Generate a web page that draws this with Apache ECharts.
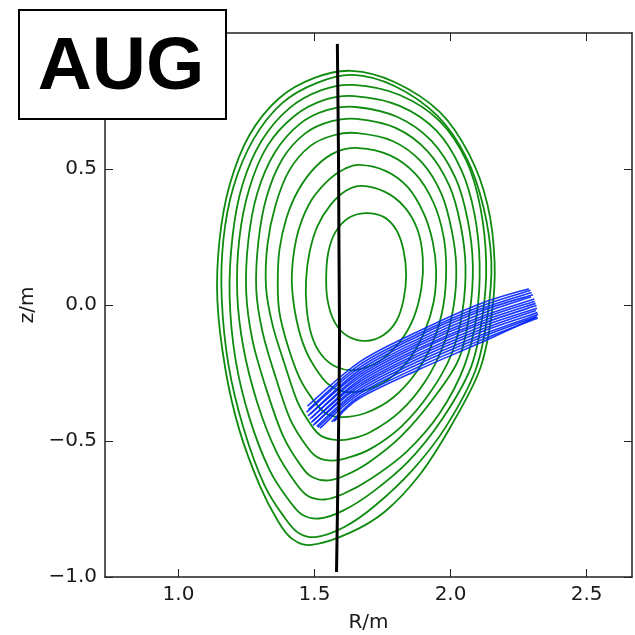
<!DOCTYPE html>
<html>
<head>
<meta charset="utf-8">
<script src="https://cdn.jsdelivr.net/npm/echarts@6/dist/echarts.min.js"></script>
<style>
html, body { margin: 0; padding: 0; background: #fff; }
#main { width: 635px; height: 635px; }
</style>
</head>
<body>
<div id="main"></div>
<script>
// flux surfaces, outermost first, [R, z] in m
var c0 = [[1.636,0.861],[1.794,0.820],[1.960,0.710],[2.070,0.551],[2.136,0.368],[2.162,0.158],[2.151,-0.037],[2.107,-0.239],[2.004,-0.441],[1.886,-0.625],[1.757,-0.761],[1.629,-0.838],[1.489,-0.882],[1.417,-0.859],[1.366,-0.795],[1.298,-0.662],[1.224,-0.460],[1.173,-0.239],[1.143,0.018],[1.151,0.239],[1.188,0.441],[1.261,0.625],[1.371,0.761],[1.500,0.835]];
var c1 = [[1.640,0.846],[1.794,0.805],[1.952,0.695],[2.059,0.540],[2.121,0.360],[2.150,0.158],[2.136,-0.037],[2.092,-0.239],[1.982,-0.449],[1.860,-0.607],[1.721,-0.739],[1.610,-0.816],[1.504,-0.853],[1.440,-0.837],[1.392,-0.784],[1.316,-0.662],[1.239,-0.452],[1.184,-0.221],[1.159,0.026],[1.165,0.239],[1.202,0.434],[1.276,0.610],[1.382,0.743],[1.507,0.816]];
var c2 = [[1.643,0.809],[1.813,0.772],[1.960,0.676],[2.059,0.529],[2.110,0.357],[2.131,0.154],[2.118,-0.037],[2.074,-0.232],[1.967,-0.423],[1.846,-0.574],[1.713,-0.688],[1.605,-0.756],[1.518,-0.785],[1.455,-0.771],[1.410,-0.723],[1.335,-0.607],[1.261,-0.415],[1.210,-0.202],[1.188,0.033],[1.199,0.254],[1.235,0.441],[1.305,0.603],[1.408,0.724],[1.526,0.790]];
var c3 = [[1.647,0.768],[1.813,0.732],[1.949,0.640],[2.040,0.496],[2.088,0.335],[2.107,0.151],[2.096,-0.037],[2.051,-0.224],[1.960,-0.398],[1.838,-0.540],[1.706,-0.640],[1.605,-0.695],[1.537,-0.715],[1.476,-0.702],[1.432,-0.656],[1.360,-0.540],[1.290,-0.360],[1.239,-0.158],[1.216,0.040],[1.224,0.246],[1.261,0.430],[1.327,0.585],[1.426,0.695],[1.537,0.754]];
var c4 = [[1.651,0.728],[1.805,0.691],[1.930,0.603],[2.018,0.467],[2.063,0.313],[2.082,0.147],[2.070,-0.029],[2.029,-0.202],[1.930,-0.353],[1.816,-0.485],[1.702,-0.577],[1.614,-0.626],[1.551,-0.645],[1.495,-0.634],[1.454,-0.596],[1.386,-0.485],[1.324,-0.313],[1.272,-0.129],[1.249,0.048],[1.257,0.239],[1.290,0.412],[1.353,0.559],[1.445,0.665],[1.548,0.717]];
var c5 = [[1.654,0.684],[1.798,0.651],[1.915,0.566],[1.996,0.438],[2.037,0.294],[2.055,0.143],[2.044,-0.022],[2.004,-0.180],[1.925,-0.322],[1.820,-0.446],[1.706,-0.529],[1.621,-0.562],[1.566,-0.572],[1.513,-0.561],[1.476,-0.526],[1.412,-0.423],[1.357,-0.265],[1.309,-0.099],[1.286,0.055],[1.294,0.235],[1.324,0.397],[1.382,0.537],[1.467,0.632],[1.563,0.676]];
var c6 = [[1.658,0.632],[1.787,0.603],[1.893,0.526],[1.967,0.408],[2.004,0.276],[2.021,0.140],[2.011,-0.007],[1.974,-0.147],[1.908,-0.279],[1.813,-0.393],[1.706,-0.467],[1.629,-0.493],[1.577,-0.496],[1.526,-0.482],[1.493,-0.449],[1.438,-0.357],[1.390,-0.217],[1.346,-0.074],[1.322,0.063],[1.327,0.221],[1.357,0.368],[1.408,0.496],[1.485,0.585],[1.574,0.625]];
var c7 = [[1.662,0.577],[1.776,0.551],[1.871,0.482],[1.938,0.375],[1.974,0.254],[1.984,0.136],[1.974,0.000],[1.938,-0.129],[1.875,-0.246],[1.787,-0.342],[1.688,-0.397],[1.599,-0.412],[1.540,-0.397],[1.493,-0.346],[1.445,-0.268],[1.401,-0.147],[1.371,-0.026],[1.365,0.081],[1.371,0.202],[1.397,0.320],[1.441,0.423],[1.507,0.511],[1.581,0.563]];
var c8 = [[1.665,0.515],[1.761,0.493],[1.842,0.434],[1.901,0.338],[1.934,0.235],[1.947,0.129],[1.938,0.011],[1.904,-0.099],[1.846,-0.202],[1.768,-0.276],[1.688,-0.313],[1.618,-0.320],[1.563,-0.301],[1.518,-0.254],[1.467,-0.165],[1.434,-0.055],[1.417,0.074],[1.423,0.184],[1.445,0.287],[1.489,0.386],[1.555,0.463],[1.610,0.500]];
var c9 = [[1.673,0.438],[1.761,0.415],[1.831,0.360],[1.879,0.276],[1.898,0.173],[1.893,0.063],[1.864,-0.048],[1.813,-0.136],[1.739,-0.206],[1.651,-0.239],[1.581,-0.228],[1.526,-0.184],[1.489,-0.110],[1.471,-0.011],[1.469,0.092],[1.482,0.195],[1.511,0.290],[1.559,0.368],[1.614,0.419]];
var c10 = [[1.688,0.338],[1.754,0.324],[1.801,0.276],[1.827,0.202],[1.837,0.110],[1.827,0.018],[1.801,-0.059],[1.754,-0.110],[1.688,-0.132],[1.621,-0.114],[1.574,-0.063],[1.548,0.018],[1.543,0.107],[1.551,0.195],[1.577,0.268],[1.625,0.320]];
var surfaces = [c0, c1, c2, c3, c4, c5, c6, c7, c8, c9, c10];

// beam rays
var rays = [
  [[1.474,-0.372],[1.665,-0.210],[1.886,-0.095],[2.107,0.004],[2.288,0.060]],
  [[1.478,-0.384],[1.665,-0.220],[1.886,-0.104],[2.107,-0.006],[2.294,0.054]],
  [[1.471,-0.394],[1.665,-0.230],[1.886,-0.112],[2.107,-0.016],[2.298,0.046]],
  [[1.485,-0.400],[1.665,-0.240],[1.886,-0.122],[2.107,-0.024],[2.303,0.038]],
  [[1.476,-0.408],[1.665,-0.249],[1.886,-0.131],[2.107,-0.034],[2.296,0.030]],
  [[1.490,-0.414],[1.665,-0.258],[1.886,-0.140],[2.107,-0.045],[2.308,0.022]],
  [[1.482,-0.420],[1.665,-0.266],[1.886,-0.148],[2.107,-0.053],[2.310,0.014]],
  [[1.495,-0.426],[1.665,-0.275],[1.886,-0.158],[2.107,-0.063],[2.313,0.006]],
  [[1.488,-0.432],[1.665,-0.283],[1.886,-0.166],[2.107,-0.072],[2.316,-0.002]],
  [[1.500,-0.437],[1.665,-0.292],[1.886,-0.176],[2.107,-0.082],[2.318,-0.012]],
  [[1.494,-0.443],[1.665,-0.300],[1.886,-0.185],[2.107,-0.092],[2.314,-0.020]],
  [[1.508,-0.446],[1.665,-0.309],[1.886,-0.195],[2.107,-0.101],[2.320,-0.028]],
  [[1.512,-0.450],[1.665,-0.318],[1.886,-0.205],[2.107,-0.112],[2.322,-0.035]],
  [[1.520,-0.453],[1.665,-0.327],[1.886,-0.215],[2.107,-0.121],[2.318,-0.042]],
  [[1.563,-0.430],[1.665,-0.336],[1.886,-0.226],[2.107,-0.131],[2.321,-0.048]],
  [[1.572,-0.428],[1.665,-0.343],[1.886,-0.236],[2.107,-0.140],[2.316,-0.044]]
];

// wall / cut line
var wall = [[1.584,0.960],[1.588,0.570],[1.590,0.202],[1.592,-0.092],[1.590,-0.349],[1.586,-0.643],[1.581,-0.982]];

var xTicks = [1.0, 1.5, 2.0, 2.5];
var yTicks = [-1.0, -0.5, 0.0, 0.5];

function fmt(v) {
    return v < 0 ? '\u2212' + Math.abs(v).toFixed(1) : v.toFixed(1);
}

var dom = document.getElementById('main');
var chart = echarts.init(dom);

// catmull-rom path through the projected points
function smoothPath(px, closed) {
    var n = px.length;
    function P(i) {
        if (closed) return px[(i + n) % n];
        return px[Math.max(0, Math.min(n - 1, i))];
    }
    var d = 'M' + px[0][0].toFixed(2) + ' ' + px[0][1].toFixed(2);
    var segs = closed ? n : n - 1;
    for (var i = 0; i < segs; i++) {
        var p0 = P(i - 1), p1 = P(i), p2 = P(i + 1), p3 = P(i + 2);
        var c1x = p1[0] + (p2[0] - p0[0]) / 6, c1y = p1[1] + (p2[1] - p0[1]) / 6;
        var c2x = p2[0] - (p3[0] - p1[0]) / 6, c2y = p2[1] - (p3[1] - p1[1]) / 6;
        d += ' C' + c1x.toFixed(2) + ' ' + c1y.toFixed(2) + ' ' + c2x.toFixed(2) + ' ' + c2y.toFixed(2) + ' ' + p2[0].toFixed(2) + ' ' + p2[1].toFixed(2);
    }
    if (closed) d += ' Z';
    return d;
}

function curveSeries(pts, closed, style, z) {
    return {
        type: 'custom',
        coordinateSystem: 'cartesian2d',
        data: pts,
        encode: { x: 0, y: 1 },
        clip: true,
        z: z,
        renderItem: function (params, api) {
            if (params.dataIndex !== 0) return;
            var px = pts.map(function (p) { return api.coord(p); });
            return {
                type: 'path',
                shape: { pathData: smoothPath(px, closed) },
                style: style
            };
        }
    };
}

var series = [];
surfaces.forEach(function (c) {
    series.push(curveSeries(c, true, { fill: 'none', stroke: '#0f8c0f', lineWidth: 1.8 }, 2));
});
rays.forEach(function (r) {
    series.push(curveSeries(r, false, { fill: 'none', stroke: '#0022ff', lineWidth: 1.6, opacity: 0.9 }, 3));
});
series.push(curveSeries(wall, false, { fill: 'none', stroke: '#000', lineWidth: 3 }, 4));

var lineStyleAxis = { color: '#222', width: 1.5 };
var option = {
    animation: false,
    grid: { left: 105, top: 33, width: 527, height: 544, outerBoundsMode: 'none', containLabel: false },
    xAxis: [
        {
            type: 'value', min: 0.73, max: 2.667, position: 'bottom',
            name: 'R/m', nameLocation: 'middle', nameGap: 36,
            nameTextStyle: { fontFamily: 'DejaVu Sans', fontSize: 20, color: '#1a1a1a' },
            axisLine: { show: true, onZero: false, lineStyle: lineStyleAxis },
            axisTick: { show: true, inside: true, length: 8, customValues: xTicks, lineStyle: { color: '#222', width: 1 } },
            axisLabel: { customValues: xTicks, formatter: fmt, fontFamily: 'DejaVu Sans', fontSize: 20, color: '#1a1a1a', margin: 8 },
            splitLine: { show: false }
        },
        {
            type: 'value', min: 0.73, max: 2.667, position: 'top',
            axisLine: { show: true, onZero: false, lineStyle: lineStyleAxis },
            axisTick: { show: true, inside: true, length: 8, customValues: xTicks, lineStyle: { color: '#222', width: 1 } },
            axisLabel: { show: false },
            splitLine: { show: false }
        }
    ],
    yAxis: [
        {
            type: 'value', min: -1, max: 1, position: 'left',
            name: 'z/m', nameLocation: 'middle', nameGap: 66, nameRotate: 90,
            nameTextStyle: { fontFamily: 'DejaVu Sans', fontSize: 20, color: '#1a1a1a' },
            axisLine: { show: true, onZero: false, lineStyle: lineStyleAxis },
            axisTick: { show: true, inside: true, length: 8, customValues: yTicks, lineStyle: { color: '#222', width: 1 } },
            axisLabel: { customValues: yTicks, formatter: fmt, fontFamily: 'DejaVu Sans', fontSize: 20, color: '#1a1a1a', margin: 8 },
            splitLine: { show: false }
        },
        {
            type: 'value', min: -1, max: 1, position: 'right',
            axisLine: { show: true, onZero: false, lineStyle: lineStyleAxis },
            axisTick: { show: true, inside: true, length: 8, customValues: yTicks, lineStyle: { color: '#222', width: 1 } },
            axisLabel: { show: false },
            splitLine: { show: false }
        }
    ],
    series: series,
    graphic: [
        {
            type: 'rect', z: 100,
            shape: { x: 19, y: 10, width: 207, height: 109 },
            style: { fill: '#fff', stroke: '#000', lineWidth: 2 }
        },
        {
            type: 'text', z: 101, x: 121, y: 68,
            style: {
                text: 'AUG', font: 'bold 75px "Liberation Sans", Arial, sans-serif',
                fill: '#000', textAlign: 'center', textVerticalAlign: 'middle'
            }
        }
    ]
};
chart.setOption(option);
</script>
</body>
</html>
